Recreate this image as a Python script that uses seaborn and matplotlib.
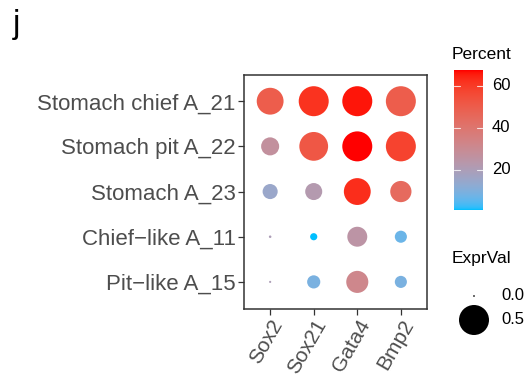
import numpy as np
import pandas as pd
import matplotlib
matplotlib.use("Agg")
import matplotlib.pyplot as plt
from matplotlib.colors import ListedColormap, Normalize
import seaborn as sns

# ---- data ----
genes = ["Sox2", "Sox21", "Gata4", "Bmp2"]
clusters = ["Stomach chief A_21", "Stomach pit A_22", "Stomach A_23",
            "Chief\u2212like A_11", "Pit\u2212like A_15"]
# rows follow `clusters`, columns follow `genes`
percent = [
    [50, 62, 66, 50],
    [27, 52, 67.5, 58],
    [15, 22, 63, 45],
    [20, 0.8, 25, 7],
    [20, 9, 32, 9],
]
expr_val = [
    [0.40, 0.76, 0.68, 0.53],
    [0.18, 0.46, 0.68, 0.72],
    [0.125, 0.16, 0.40, 0.25],
    [0.002, 0.027, 0.22, 0.08],
    [0.001, 0.095, 0.27, 0.08],
]
legend_expr = [0.0, 0.5]
legend_pct_ticks = [20, 40, 60]

rows = []
for i, c in enumerate(clusters):
    for j, g in enumerate(genes):
        rows.append({"Cluster": c, "Gene": g, "Percent": percent[i][j],
                     "ExprVal": expr_val[i][j]})
df = pd.DataFrame(rows)


# ---- colour gradient interpolated in CIELAB (deepskyblue -> red) ----
def _srgb_to_lin(c):
    c = np.asarray(c, float)
    return np.where(c <= 0.04045, c / 12.92, ((c + 0.055) / 1.055) ** 2.4)


def _lin_to_srgb(c):
    c = np.clip(c, 0, 1)
    return np.where(c <= 0.0031308, 12.92 * c, 1.055 * c ** (1 / 2.4) - 0.055)


M = np.array([[0.4124, 0.3576, 0.1805],
              [0.2126, 0.7152, 0.0722],
              [0.0193, 0.1192, 0.9505]])
WHITE = np.array([0.95047, 1.0, 1.08883])


def rgb_to_lab(rgb):
    xyz = M @ _srgb_to_lin(rgb) / WHITE
    f = np.where(xyz > (6 / 29) ** 3, np.cbrt(xyz), xyz / (3 * (6 / 29) ** 2) + 4 / 29)
    return np.array([116 * f[1] - 16, 500 * (f[0] - f[1]), 200 * (f[1] - f[2])])


def lab_to_rgb(lab):
    L, a, b = lab
    fy = (L + 16) / 116
    fx = fy + a / 500
    fz = fy - b / 200
    f = np.array([fx, fy, fz])
    xyz = np.where(f > 6 / 29, f ** 3, 3 * (6 / 29) ** 2 * (f - 4 / 29)) * WHITE
    return _lin_to_srgb(np.linalg.solve(M, xyz))


low = rgb_to_lab(np.array([0, 191, 255]) / 255)
high = rgb_to_lab(np.array([255, 0, 0]) / 255)
cmap = ListedColormap([lab_to_rgb(low + t * (high - low)) for t in np.linspace(0, 1, 256)])
pmin, pmax = df["Percent"].min(), df["Percent"].max()
pnorm = Normalize(pmin, pmax)

# ---- figure ----
sns.set_style("white")
plt.rcParams["font.family"] = ["Liberation Sans", "DejaVu Sans"]

W, H = 527, 378
fig = plt.figure(figsize=(W / 100, H / 100), dpi=100)


def px_axes(x0, y0, x1, y1):
    return fig.add_axes([x0 / W, 1 - y1 / H, (x1 - x0) / W, (y1 - y0) / H])


ax = px_axes(244, 75, 427, 309)

SMAX = (0.72 * 30) ** 2  # area (pt^2) of a 30 px circle, used for ExprVal 0.5
sizes = (1.5, SMAX)

df["xi"] = df["Gene"].map({g: k for k, g in enumerate(genes)})
df["yi"] = df["Cluster"].map({c: k for k, c in enumerate(clusters)})
sns.scatterplot(data=df, x="xi", y="yi", hue="Percent", palette=cmap,
                hue_norm=pnorm, size="ExprVal", sizes=sizes, size_norm=(0, 0.5),
                edgecolor="none", linewidth=0, legend=False, ax=ax)

ax.set_xlim(-0.6, 3.6)
ax.set_ylim(4.6, -0.58)
ax.set_xticks(range(len(genes)))
ax.set_xticklabels(genes, rotation=60, ha="right", rotation_mode="anchor")
ax.set_yticks(range(len(clusters)))
ax.set_yticklabels(clusters)
ax.set_xlabel("")
ax.set_ylabel("")
ax.tick_params(axis="both", which="both", length=4, width=0.9, color="#333333",
               labelcolor="#4D4D4D", labelsize=16, left=True, bottom=True, pad=2)
ax.tick_params(axis="x", labelsize=15, pad=1)
for lbl in ax.get_xticklabels():
    lbl.set_x(lbl.get_position()[0])
for s in ax.spines.values():
    s.set_color("#333333")
    s.set_linewidth(1.1)

fig.text(13 / W, 1 - 33 / H, "j", fontsize=24, color="black", ha="left", va="baseline")

# ---- colour legend ----
fig.text(452 / W, 1 - 59 / H, "Percent", fontsize=12.5, color="black", ha="left",
         va="baseline")
cax = px_axes(454, 70, 483, 210)
grad = np.linspace(pmin, pmax, 256).reshape(-1, 1)
cax.imshow(grad, aspect="auto", cmap=cmap, norm=pnorm, origin="lower",
           extent=[0, 1, pmin, pmax])
cax.set_xlim(0, 1)
cax.set_ylim(pmin, pmax)
cax.set_xticks([])
cax.set_yticks([])
for s in cax.spines.values():
    s.set_visible(False)
for t in legend_pct_ticks:
    cax.plot([0, 0.2], [t, t], color="white", lw=0.8, alpha=0.8)
    cax.plot([0.8, 1], [t, t], color="white", lw=0.8, alpha=0.8)
    cax.text(1.3, t, str(t), transform=cax.transData, fontsize=12, color="black",
             va="center", ha="left", clip_on=False)

# ---- size legend ----
fig.text(452 / W, 1 - 263 / H, "ExprVal", fontsize=12.5, color="black", ha="left",
         va="baseline")
sax = px_axes(452, 283, 527, 335)
sax.set_xlim(452, 527)
sax.set_ylim(335, 283)
sax.axis("off")
sz = [sizes[0] + v / 0.5 * (sizes[1] - sizes[0]) for v in legend_expr]
sax.scatter([474, 474], [296, 320], s=sz, color="black", linewidths=0)
for yv, v in zip([296, 320], legend_expr):
    sax.text(501, yv, f"{v:.1f}", fontsize=12, color="black", va="center", ha="left")

fig.savefig("out.png", dpi=100)
